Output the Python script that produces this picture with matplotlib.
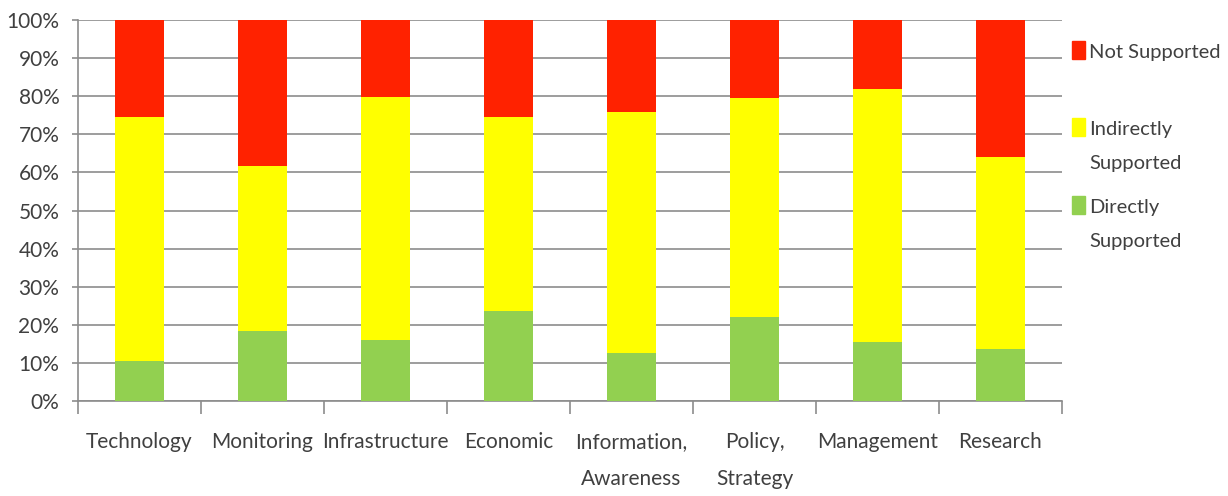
import matplotlib
matplotlib.use("Agg")
import matplotlib.pyplot as plt
from matplotlib.patches import Rectangle
import numpy as np

categories = ["Technology", "Monitoring", "Infrastructure", "Economic",
              "Information,\nAwareness", "Policy,\nStrategy", "Management", "Research"]
directly = [10.4, 18.3, 16.0, 23.7, 12.5, 21.9, 15.5, 13.6]
indirectly_top = [74.6, 61.8, 79.8, 74.5, 75.8, 79.5, 81.9, 64.1]
indirectly = [t - d for t, d in zip(indirectly_top, directly)]
not_supported = [100 - t for t in indirectly_top]
yticks = [0, 10, 20, 30, 40, 50, 60, 70, 80, 90, 100]

series_labels = ["Not Supported", "Indirectly\nSupported", "Directly\nSupported"]
RED, YELLOW, GREEN = "#FF2200", "#FFFF00", "#92D050"
TEXT = "#404040"
GRID = "#8C8C8C"

plt.rcParams["font.family"] = ["Lato", "DejaVu Sans"]

fig = plt.figure(figsize=(12.28, 4.96), dpi=100)
ax = fig.add_axes([78 / 1228, 95.3 / 496, 984 / 1228, 380.4 / 496])

x = np.arange(len(categories))
w = 0.40
ax.bar(x, directly, w, color=GREEN, zorder=3)
ax.bar(x, indirectly, w, bottom=directly, color=YELLOW, zorder=3)
ax.bar(x, not_supported, w, bottom=indirectly_top, color=RED, zorder=3)

ax.set_xlim(-0.5, len(categories) - 0.5)
ax.set_ylim(0, 100)
ax.set_yticks(yticks)
ax.set_yticklabels([f"{v}%" for v in yticks], fontsize=15, color=TEXT)
ax.yaxis.grid(True, color=GRID, linewidth=1.2, zorder=0)
ax.tick_params(axis="y", length=4.5, width=1.2, color=GRID, pad=9)

# category boundaries carry the x ticks; labels sit at the bar centres
ax.set_xticks(np.arange(len(categories) + 1) - 0.5)
ax.set_xticklabels([])
ax.tick_params(axis="x", length=9, width=1.2, color=GRID)
ax.set_xticks(x, minor=True)
ax.set_xticklabels(categories, minor=True, fontsize=15, color=TEXT, linespacing=2.05)
ax.tick_params(axis="x", which="minor", length=0, pad=22.5)

for side in ["top", "right"]:
    ax.spines[side].set_visible(False)
for side in ["left", "bottom"]:
    ax.spines[side].set_color(GRID)
    ax.spines[side].set_linewidth(1.2)

# legend drawn in figure pixels: swatch spans cap height of the first line
W, H = 1228, 496
legend_items = [(RED, series_labels[0], 59), (YELLOW, series_labels[1], 136), (GREEN, series_labels[2], 214)]
for color, label, base in legend_items:
    fig.patches.append(Rectangle((1072 / W, 1 - base / H), 13 / W, 18 / H,
                                 transform=fig.transFigure, color=color, figure=fig))
    fig.text(1089 / W, 1 - (base - 15) / H, label, fontsize=14.5, color=TEXT,
             va="top", ha="left", linespacing=2.2)

fig.savefig("out.png", dpi=100, facecolor="white")
